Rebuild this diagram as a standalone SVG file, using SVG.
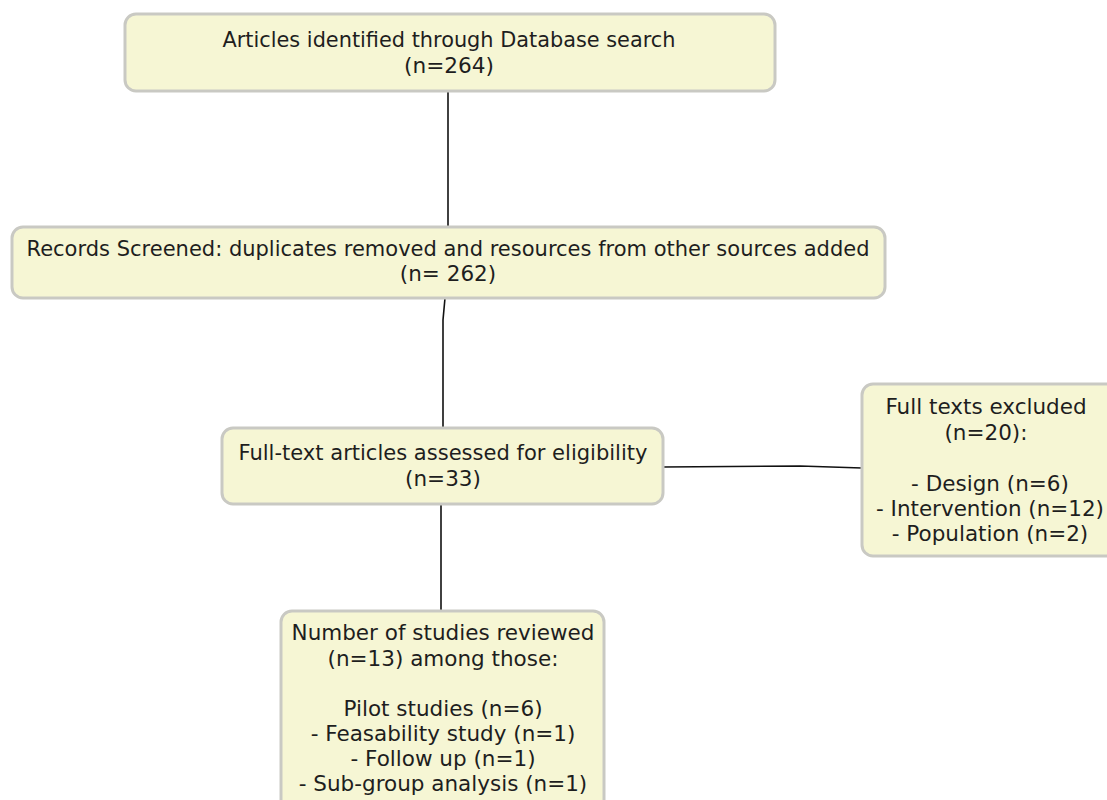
<svg xmlns="http://www.w3.org/2000/svg" width="1107" height="800" viewBox="0 0 1107 800">
<style>
.box{fill:#f6f6d4;stroke:#c9c9c3;stroke-width:3}
text{font-family:"DejaVu Sans",Verdana,sans-serif;font-size:21.5px;fill:#1e1e1e;text-anchor:middle}
.c{fill:none;stroke:#111;stroke-width:1.6}
</style>
<rect width="1107" height="800" fill="#fff"/>
<g id="connectors">
<path class="c" d="M448 91 V227"/>
<path class="c" d="M445 298 L443 320 V428"/>
<path class="c" d="M441 504 V611"/>
<path class="c" d="M663 467 L800 466 L862 468"/>
</g>
<g id="n1">
<rect class="box" x="125" y="14" width="650" height="77" rx="11"/>
<text x="449" y="47" textLength="453" lengthAdjust="spacingAndGlyphs">Articles identified through Database search</text>
<text x="449" y="73" textLength="90" lengthAdjust="spacingAndGlyphs">(n=264)</text>
</g>
<g id="n2">
<rect class="box" x="12" y="227" width="873" height="71" rx="11"/>
<text x="448" y="256" textLength="843" lengthAdjust="spacingAndGlyphs">Records Screened: duplicates removed and resources from other sources added</text>
<text x="448" y="281">(n= 262)</text>
</g>
<g id="n3">
<rect class="box" x="222" y="428" width="441" height="76" rx="11"/>
<text x="443" y="460" textLength="409" lengthAdjust="spacingAndGlyphs">Full-text articles assessed for eligibility</text>
<text x="443" y="486">(n=33)</text>
</g>
<g id="n4">
<rect class="box" x="862" y="384" width="260" height="172" rx="11"/>
<text x="986" y="414">Full texts excluded</text>
<text x="986" y="440">(n=20):</text>
<text x="990" y="491">- Design (n=6)</text>
<text x="990" y="516" textLength="228" lengthAdjust="spacingAndGlyphs">- Intervention (n=12)</text>
<text x="990" y="541">- Population (n=2)</text>
</g>
<g id="n5">
<rect class="box" x="281" y="611" width="323" height="210" rx="11"/>
<text x="443" y="640">Number of studies reviewed</text>
<text x="443" y="666">(n=13) among those:</text>
<text x="443" y="716">Pilot studies (n=6)</text>
<text x="443" y="741">- Feasability study (n=1)</text>
<text x="443" y="766">- Follow up (n=1)</text>
<text x="443" y="791">- Sub-group analysis (n=1)</text>
</g>
</svg>
